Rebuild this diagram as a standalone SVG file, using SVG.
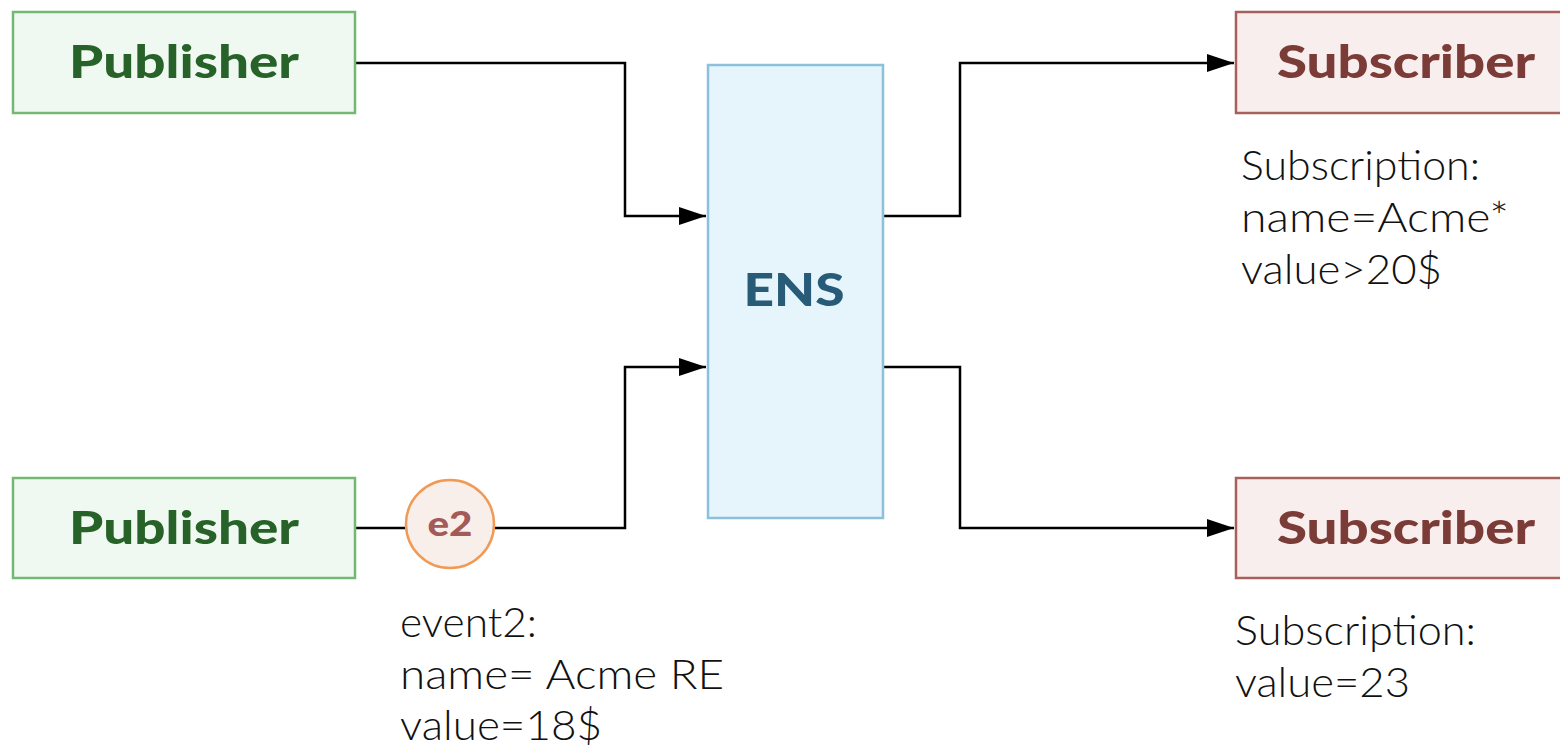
<svg xmlns="http://www.w3.org/2000/svg" width="1560" height="745" viewBox="0 0 1560 745">
<style>
.pub rect{fill:#f0f9f1;stroke:#74b874;stroke-width:2.5}
.pub text{fill:#276229;font-family:Lato,"Open Sans",sans-serif;font-weight:900;font-size:46px;text-anchor:middle}
.sub rect{fill:#f8eeed;stroke:#a8605c;stroke-width:2.5}
.sub text{fill:#7b3b37;font-family:Lato,"Open Sans",sans-serif;font-weight:900;font-size:46px;text-anchor:middle}
.ens rect{fill:#e6f4fc;stroke:#8dc0d9;stroke-width:2.5}
.ens text{fill:#275b78;font-family:Lato,"Open Sans",sans-serif;font-weight:900;font-size:46px;text-anchor:middle}
.ev circle{fill:#f8efea;stroke:#f09a55;stroke-width:2.5}
.ev text{fill:#a35b58;font-family:Lato,"Open Sans",sans-serif;font-weight:900;font-size:34px;text-anchor:middle}
.lbl{fill:#111;font-family:Lato,"Open Sans",sans-serif;font-weight:300;font-size:42px}
.conn path{fill:none;stroke:#000;stroke-width:2.5}
</style>
<defs>
<marker id="arr" markerUnits="userSpaceOnUse" markerWidth="28" markerHeight="20" refX="27" refY="9" orient="auto">
<path d="M0,0 L27,9 L0,18 Z" fill="#000"/>
</marker>
</defs>
<g class="conn" id="connectors">
<path d="M355,63 H625 V216 H706" marker-end="url(#arr)"/>
<path d="M355,528 H625 V367 H706" marker-end="url(#arr)"/>
<path d="M883,216 H960 V63 H1234" marker-end="url(#arr)"/>
<path d="M883,367 H960 V528 H1234" marker-end="url(#arr)"/>
</g>
<g id="publisher1" class="pub">
<rect x="13" y="12" width="342" height="101"/>
<text x="184" y="78" textLength="230" lengthAdjust="spacingAndGlyphs">Publisher</text>
</g>
<g id="publisher2" class="pub">
<rect x="13" y="478" width="342" height="100"/>
<text x="184" y="544" textLength="230" lengthAdjust="spacingAndGlyphs">Publisher</text>
</g>
<g id="ens" class="ens">
<rect x="708" y="65" width="175" height="453"/>
<text x="794" y="306" textLength="101" lengthAdjust="spacingAndGlyphs">ENS</text>
</g>
<g id="subscriber1" class="sub">
<rect x="1236" y="12" width="342" height="101"/>
<text x="1406" y="78" textLength="258" lengthAdjust="spacingAndGlyphs">Subscriber</text>
</g>
<g id="subscriber2" class="sub">
<rect x="1236" y="478" width="342" height="100"/>
<text x="1406" y="544" textLength="258" lengthAdjust="spacingAndGlyphs">Subscriber</text>
</g>
<g id="event-e2" class="ev">
<circle cx="450" cy="524" r="44"/>
<text x="450" y="536" textLength="45" lengthAdjust="spacingAndGlyphs">e2</text>
</g>
<g id="labels">
<text class="lbl" x="1241" y="180" textLength="239" lengthAdjust="spacingAndGlyphs">Subscription:</text>
<text class="lbl" x="1241" y="232" textLength="268" lengthAdjust="spacingAndGlyphs">name=Acme*</text>
<text class="lbl" x="1241" y="284" textLength="201" lengthAdjust="spacingAndGlyphs">value&gt;20$</text>
<text class="lbl" x="1235" y="645" textLength="241" lengthAdjust="spacingAndGlyphs">Subscription:</text>
<text class="lbl" x="1235" y="697" textLength="175" lengthAdjust="spacingAndGlyphs">value=23</text>
<text class="lbl" x="400" y="637" textLength="137" lengthAdjust="spacingAndGlyphs">event2:</text>
<text class="lbl" x="400" y="689" textLength="324" lengthAdjust="spacingAndGlyphs">name= Acme RE</text>
<text class="lbl" x="400" y="740" textLength="202" lengthAdjust="spacingAndGlyphs">value=18$</text>
</g>
</svg>
